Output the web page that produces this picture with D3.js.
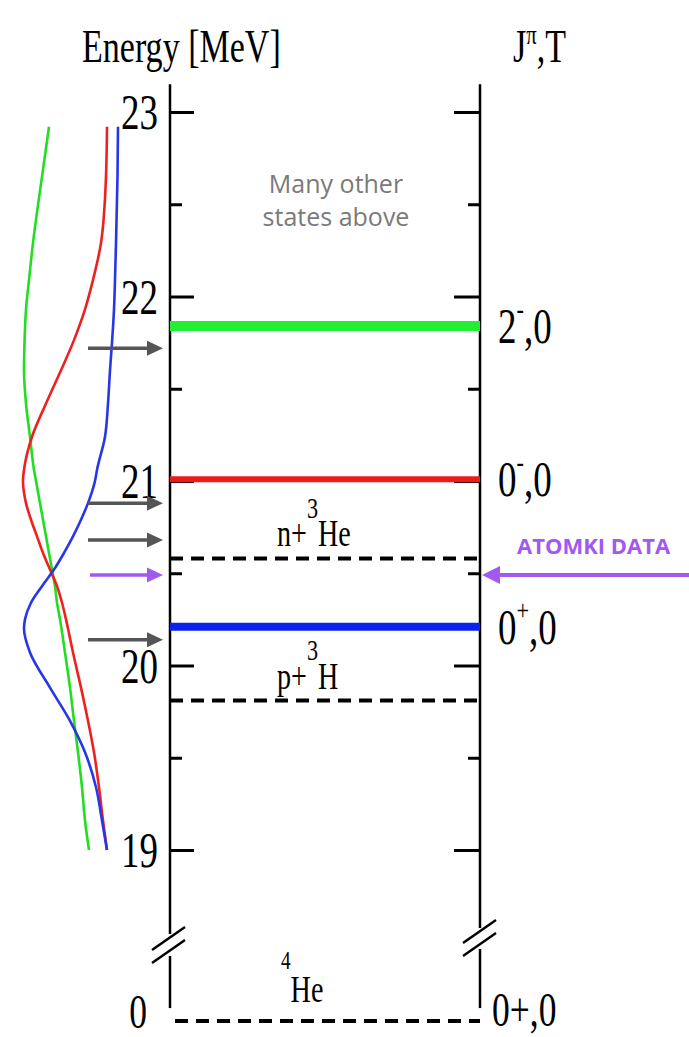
<!DOCTYPE html>
<html>
<head>
<meta charset="utf-8">
<script src="https://cdn.jsdelivr.net/npm/d3@7"></script>
<style>
  body { margin: 0; background: #fff; }
  svg { display: block; }
</style>
</head>
<body>
<svg width="689" height="1037"></svg>
<script>
// line-shape curves on the left, sampled in energy (MeV) / relative strength
var curveEnergy = [22.92, 22.65, 22.29, 22.09, 21.93, 21.75, 21.60, 21.42, 21.24, 21.06, 21.00, 20.88, 20.79,
                   20.70, 20.61, 20.52, 20.43, 20.34, 20.25, 20.20, 20.07, 19.88, 19.70, 19.53, 19.34, 19.16, 19.00];
var greenShape = [0.71, 0.78, 0.87, 0.91, 0.94, 0.955, 0.96, 0.94, 0.90, 0.86, 0.84, 0.80, 0.77,
                  0.74, 0.71, 0.68, 0.65, 0.63, 0.60, 0.585, 0.55, 0.50, 0.46, 0.42, 0.38, 0.35, 0.31];
var redShape   = [0.13, 0.14, 0.19, 0.27, 0.35, 0.47, 0.59, 0.74, 0.88, 0.96, 0.97, 0.94, 0.89,
                  0.83, 0.77, 0.70, 0.63, 0.58, 0.54, 0.52, 0.47, 0.39, 0.32, 0.26, 0.21, 0.17, 0.13];
var blueShape  = [0.02, 0.025, 0.04, 0.05, 0.06, 0.08, 0.10, 0.12, 0.15, 0.23, 0.25, 0.32, 0.39,
                  0.47, 0.56, 0.66, 0.78, 0.89, 0.95, 0.96, 0.90, 0.70, 0.50, 0.35, 0.24, 0.18, 0.13];

// 4He states
var levelEnergy = [21.84, 21.01, 20.21];
var levelJ      = ["2", "0", "0"];
var levelParity = ["-", "-", "+"];
var levelT      = ["0", "0", "0"];

// breakup thresholds
var thresholdEnergy = [20.58, 19.81];
var thresholdLight  = ["n+", "p+"];
var thresholdMass   = ["3", "3"];
var thresholdHeavy  = ["He", "H"];

var beamEnergy   = [21.72, 20.88, 20.68, 20.14];
var atomkiEnergy = [20.49];

var majorTicks = [19, 20, 21, 22, 23];
var minorTicks = [19.5, 20.5, 21.5, 22.5];
var groundEnergy = [0];

var svg = d3.select("svg");
var serif = "'Liberation Serif', 'Times New Roman', serif";
var sx = 0.74;

var xL = 170, xR = 480;
var y = d3.scaleLinear().domain([19, 23]).range([850, 112]);
var yLow = d3.scaleLinear().domain([0, 1]).range([1021, 1021 - 184.5]);
var xs = d3.scaleLinear().domain([0, 1]).range([120, 20]);

var curveColors = ["#22dd22", "#ee2020", "#2836ea"];
var levelColors = ["#22ee33", "#ee1a1a", "#0a22ee"];
var levelWidths = [10, 6, 8];

function txt(x, yy, size, anchor, scale) {
    return svg.append("text")
        .attr("transform", "translate(" + x + "," + yy + ") scale(" + (scale || sx) + ",1)")
        .attr("font-family", serif)
        .attr("font-size", size)
        .attr("text-anchor", anchor || "start")
        .attr("fill", "#000");
}

// axis spines (broken)
var spine = svg.append("g").attr("stroke", "#000").attr("stroke-width", 2.5);
spine.append("line").attr("x1", xL).attr("x2", xL).attr("y1", y(23.15)).attr("y2", 934);
spine.append("line").attr("x1", xL).attr("x2", xL).attr("y1", 956).attr("y2", yLow(0.07));
spine.append("line").attr("x1", xR).attr("x2", xR).attr("y1", y(23.15)).attr("y2", 928);
spine.append("line").attr("x1", xR).attr("x2", xR).attr("y1", 949).attr("y2", yLow(0.07));

// break marks
[[xL - 1, 945], [xR, 938]].forEach(function(c) {
    [-6.5, 6.5].forEach(function(o) {
        spine.append("line")
            .attr("x1", c[0] - 17).attr("y1", c[1] + o + 11.5)
            .attr("x2", c[0] + 16).attr("y2", c[1] + o - 11.5)
            .attr("stroke-width", 2.5);
    });
});

// ticks
function ticks(axisFn, x, vals, size) {
    var a = svg.append("g").attr("transform", "translate(" + x + ",0)")
        .call(axisFn(y).tickValues(vals).tickSize(size).tickFormat(""));
    a.select(".domain").remove();
    a.selectAll("line").attr("stroke", "#000").attr("stroke-width", 3);
}
ticks(d3.axisRight, xL, majorTicks, 24);
ticks(d3.axisRight, xL, minorTicks, 12);
ticks(d3.axisLeft, xR, majorTicks, 26);
ticks(d3.axisLeft, xR, minorTicks, 12);

majorTicks.forEach(function(t) {
    txt(158, y(t) + 17, 50, "end").text(t);
});
groundEnergy.forEach(function(t) {
    txt(147, yLow(t) + 7, 48, "end").text(t);
});

// header
txt(82, 62, 46).text("Energy [MeV]");
var jt = txt(513, 62, 46);
jt.append("tspan").text("J");
jt.append("tspan").attr("font-size", 28).attr("dy", -18).text("\u03c0");
jt.append("tspan").attr("dy", 18).text(",T");

// threshold (dashed) lines
svg.selectAll(".thr")
    .data(thresholdEnergy)
    .enter().append("line")
    .attr("class", "thr")
    .attr("x1", xL).attr("x2", xR)
    .attr("y1", function(d) { return y(d); })
    .attr("y2", function(d) { return y(d); })
    .attr("stroke", "#000").attr("stroke-width", 4)
    .attr("stroke-dasharray", "13,8");

svg.selectAll(".gnd")
    .data(groundEnergy)
    .enter().append("line")
    .attr("class", "gnd")
    .attr("x1", xL + 5).attr("x2", xR)
    .attr("y1", function(d) { return yLow(d); })
    .attr("y2", function(d) { return yLow(d); })
    .attr("stroke", "#000").attr("stroke-width", 4)
    .attr("stroke-dasharray", "13,8");

thresholdEnergy.forEach(function(e, i) {
    var t = txt(277, y(e) - 12, 38);
    t.append("tspan").text(thresholdLight[i]);
    t.append("tspan").attr("font-size", 30).attr("dy", -29).text(thresholdMass[i]);
    t.append("tspan").attr("dy", 29).text(thresholdHeavy[i]);
});

var he = txt(281, yLow(0) - 19, 38);
he.append("tspan").attr("font-size", 26).attr("dy", -33).text("4");
he.append("tspan").attr("dy", 33).text("He");
txt(492, yLow(0) + 5, 48).text("0+,0");

// states
svg.selectAll(".lvl")
    .data(levelEnergy)
    .enter().append("line")
    .attr("class", "lvl")
    .attr("x1", xL).attr("x2", xR)
    .attr("y1", function(d) { return y(d); })
    .attr("y2", function(d) { return y(d); })
    .attr("stroke", function(d, i) { return levelColors[i]; })
    .attr("stroke-width", function(d, i) { return levelWidths[i]; });

levelEnergy.forEach(function(e, i) {
    var t = txt(498, y(e) + 17, 50);
    t.append("tspan").text(levelJ[i]);
    t.append("tspan").attr("font-size", 30).attr("dy", -24).text(levelParity[i]);
    t.append("tspan").attr("dy", 24).text("," + levelT[i]);
});

// note
var note = svg.append("text")
    .attr("font-family", "'Open Sans', sans-serif")
    .attr("font-size", 25)
    .attr("fill", "#7a7a7a")
    .attr("text-anchor", "middle");
note.append("tspan").attr("x", 336).attr("y", 193).text("Many other");
note.append("tspan").attr("x", 336).attr("y", 226).text("states above");

// line shapes
var line = d3.line()
    .x(function(d) { return xs(d.s); })
    .y(function(d) { return y(d.e); })
    .curve(d3.curveMonotoneY);

[greenShape, redShape, blueShape].forEach(function(shape, i) {
    var pts = curveEnergy.map(function(e, k) { return { e: e, s: shape[k] }; });
    svg.append("path")
        .datum(pts)
        .attr("d", line)
        .attr("fill", "none")
        .attr("stroke", curveColors[i])
        .attr("stroke-width", 2.6);
});

// arrows
function arrow(x1, x2, yy, color, w, hl, hw) {
    var dir = x2 > x1 ? 1 : -1;
    svg.append("line")
        .attr("x1", x1).attr("x2", x2 - dir * hl * 0.8)
        .attr("y1", yy).attr("y2", yy)
        .attr("stroke", color).attr("stroke-width", w);
    svg.append("path")
        .attr("d", "M" + x2 + "," + yy + "L" + (x2 - dir * hl) + "," + (yy - hw) +
                   "L" + (x2 - dir * hl) + "," + (yy + hw) + "Z")
        .attr("fill", color);
}
beamEnergy.forEach(function(e) { arrow(88, 163, y(e), "#555555", 3.5, 16, 7.5); });
atomkiEnergy.forEach(function(e) {
    arrow(90, 163, y(e), "#a259f0", 3.5, 16, 7.5);
    arrow(689, 482, y(e), "#a259f0", 4, 18, 9);
});

svg.append("text")
    .attr("x", 517).attr("y", 554)
    .attr("font-family", "'Open Sans', sans-serif")
    .attr("font-weight", "bold")
    .attr("font-size", 22)
    .attr("fill", "#a259f0")
    .text("ATOMKI DATA");
</script>
</body>
</html>
